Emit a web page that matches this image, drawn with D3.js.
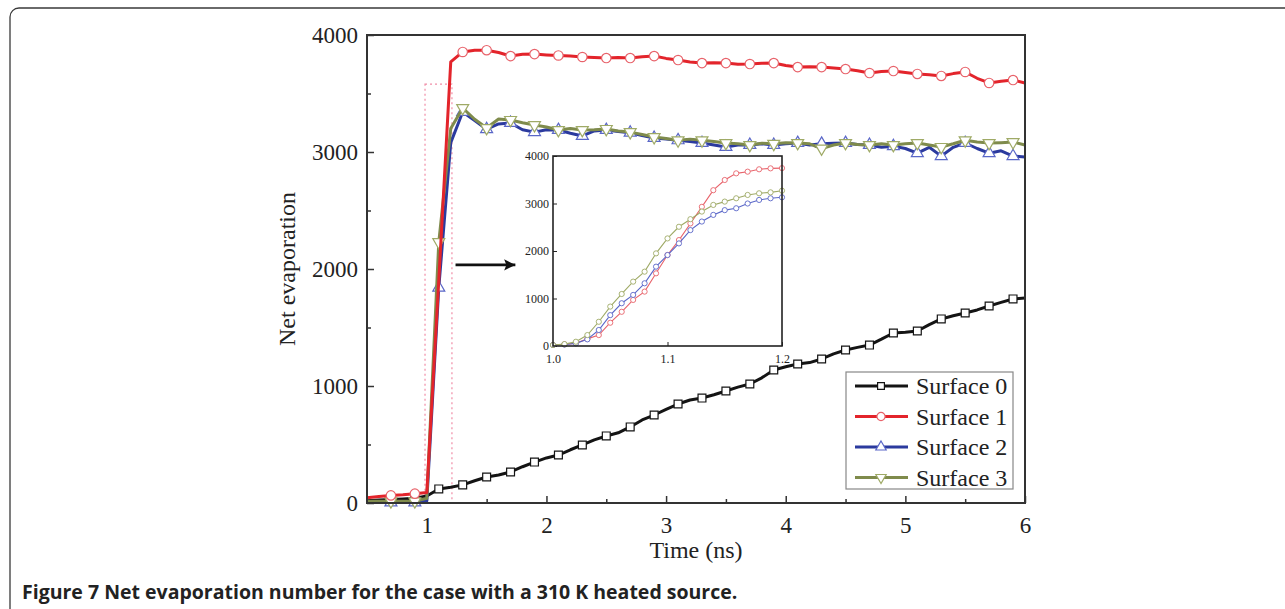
<!DOCTYPE html>
<html>
<head>
<meta charset="utf-8">
<script src="https://cdn.jsdelivr.net/npm/d3@7/dist/d3.min.js"></script>
<style>
body { margin: 0; background: #fff; }
svg text { font-family: "Liberation Serif", "Times New Roman", serif; fill: #222; }
</style>
</head>
<body>
<svg id="fig" width="1285" height="609"></svg>
<script>
// ##################################
// Data
// ##################################

// main chart, time in ns
const times = [0.5, 0.6, 0.7, 0.8, 0.9, 1.0, 1.1, 1.2, 1.3, 1.4, 1.5, 1.6, 1.7, 1.8, 1.9,
               2.0, 2.1, 2.2, 2.3, 2.4, 2.5, 2.6, 2.7, 2.8, 2.9, 3.0, 3.1, 3.2, 3.3, 3.4,
               3.5, 3.6, 3.7, 3.8, 3.9, 4.0, 4.1, 4.2, 4.3, 4.4, 4.5, 4.6, 4.7, 4.8, 4.9,
               5.0, 5.1, 5.2, 5.3, 5.4, 5.5, 5.6, 5.7, 5.8, 5.9, 6.0];

const surface0 = [20, 25, 30, 35, 40, 60, 120, 135, 155, 190, 222, 240, 265, 310, 350,
                  385, 410, 455, 496, 540, 573, 600, 650, 710, 752, 800, 846, 880, 897, 925,
                  957, 990, 1017, 1070, 1137, 1165, 1188, 1200, 1231, 1275, 1308, 1330, 1350, 1400, 1453,
                  1460, 1470, 1525, 1573, 1600, 1624, 1650, 1684, 1715, 1744, 1752];

const surface1 = [45, 55, 65, 70, 80, 90, 1900, 3770, 3855, 3870, 3870, 3850, 3820, 3835, 3837,
                  3830, 3825, 3820, 3812, 3808, 3803, 3808, 3803, 3815, 3820, 3800, 3786, 3770, 3760, 3762,
                  3760, 3750, 3752, 3758, 3760, 3740, 3726, 3728, 3726, 3718, 3709, 3695, 3675, 3688, 3692,
                  3680, 3667, 3660, 3650, 3670, 3684, 3630, 3590, 3605, 3615, 3590];

const surface2 = [5, 5, 5, 5, 5, 20, 1840, 3080, 3342, 3270, 3195, 3240, 3248, 3190, 3170,
                  3190, 3188, 3160, 3137, 3180, 3188, 3175, 3165, 3140, 3120, 3110, 3100, 3090, 3077, 3060,
                  3043, 3060, 3060, 3070, 3060, 3070, 3077, 3060, 3070, 3075, 3077, 3065, 3060, 3040, 3050,
                  3030, 2990, 3040, 2965, 3040, 3077, 3030, 2990, 3010, 2965, 2957];

const surface3 = [15, 15, 15, 15, 15, 40, 2230, 3200, 3376, 3280, 3205, 3282, 3274, 3250, 3230,
                  3213, 3188, 3200, 3188, 3190, 3197, 3180, 3170, 3150, 3128, 3115, 3100, 3110, 3100, 3090,
                  3077, 3070, 3060, 3075, 3070, 3080, 3077, 3070, 3030, 3060, 3077, 3065, 3060, 3070, 3060,
                  3070, 3077, 3060, 3043, 3070, 3100, 3085, 3077, 3080, 3085, 3060];

// inset, 1.0 - 1.2 ns
const insetTimes = [1.00, 1.01, 1.02, 1.03, 1.04, 1.05, 1.06, 1.07, 1.08, 1.09, 1.10,
                    1.11, 1.12, 1.13, 1.14, 1.15, 1.16, 1.17, 1.18, 1.19, 1.20];
const insetSurface1 = [20, 35, 60, 150, 230, 490, 720, 970, 1145, 1530, 1915,
                       2230, 2580, 2930, 3280, 3495, 3635, 3670, 3720, 3740, 3745];
const insetSurface2 = [20, 30, 55, 140, 337, 650, 900, 1075, 1320, 1670, 1915,
                       2160, 2440, 2620, 2760, 2860, 2900, 3000, 3075, 3110, 3130];
const insetSurface3 = [20, 40, 90, 230, 510, 830, 1095, 1355, 1565, 1950, 2265,
                       2510, 2670, 2830, 2970, 3040, 3110, 3180, 3215, 3235, 3270];

const seriesNames = ["Surface 0", "Surface 1", "Surface 2", "Surface 3"];
const xTicks = [1, 2, 3, 4, 5, 6];
const xMinorTicks = [1.5, 2.5, 3.5, 4.5, 5.5];
const yTicks = [0, 1000, 2000, 3000, 4000];
const yMinorTicks = [500, 1500, 2500, 3500];
const insetXTicks = [1.0, 1.1, 1.2];
const insetYTicks = [0, 1000, 2000, 3000, 4000];

const captionBold = "Figure 7";
const captionText = "Net evaporation number for the case with a 310 K heated source.";


// ##################################
// Setup
// ##################################

const colors = ["#141414", "#e3242b", "#2b3a9e", "#7f8b4c"];
const insetColors = ["#141414", "#e8636b", "#5a67c8", "#9faa66"];
const markers = [d3.symbolSquare, d3.symbolCircle, d3.symbolTriangle, d3.symbolTriangle];
const markerRot = [0, 0, 0, 180];
const markerSize = [62, 70, 62, 62];
// red series shows no symbol on its steep rise
const skipMarkerAt = [[], [1.1], [], []];

const series = [surface0, surface1, surface2, surface3].map((vals, k) => ({
    name: seriesNames[k],
    k: k,
    points: times.map((t, i) => ({ t: t, v: vals[i], i: i }))
}));

const insetSeries = [insetSurface1, insetSurface2, insetSurface3].map((vals, j) => ({
    k: j + 1,
    points: insetTimes.map((t, i) => ({ t: t, v: vals[i] }))
}));

const svg = d3.select("#fig");

// outer figure frame (rounded, open at right / bottom)
svg.append("rect")
    .attr("x", 10).attr("y", 8)
    .attr("width", 1300).attr("height", 612)
    .attr("rx", 9)
    .attr("fill", "none")
    .attr("stroke", "#3a3a3a")
    .attr("stroke-width", 1.3);


// ##################################
// Main plot
// ##################################

const xScale = d3.scaleLinear().domain([0.5, 6]).range([367, 1025]);
const yScale = d3.scaleLinear().domain([0, 4000]).range([503, 35]);

// x axis
svg.append("g")
    .attr("transform", "translate(0," + yScale(0) + ")")
    .call(d3.axisBottom(xScale).tickValues(xTicks).tickFormat(d3.format("d"))
            .tickSizeInner(-7).tickSizeOuter(0).tickPadding(14))
    .call(g => g.select(".domain").remove())
    .call(g => g.selectAll("text").attr("font-family", "Liberation Serif").attr("font-size", 23).attr("fill", "#222"))
    .call(g => g.selectAll("line").attr("stroke", "#333").attr("stroke-width", 1.5));

svg.append("g")
    .attr("transform", "translate(0," + yScale(0) + ")")
    .call(d3.axisBottom(xScale).tickValues(xMinorTicks).tickFormat("").tickSizeInner(-4).tickSizeOuter(0))
    .call(g => g.select(".domain").remove())
    .call(g => g.selectAll("line").attr("stroke", "#333").attr("stroke-width", 1.5));

// y axis
svg.append("g")
    .attr("transform", "translate(" + xScale(0.5) + ",0)")
    .call(d3.axisLeft(yScale).tickValues(yTicks).tickFormat(d3.format("d"))
            .tickSizeInner(-7).tickSizeOuter(0).tickPadding(9))
    .call(g => g.select(".domain").remove())
    .call(g => g.selectAll("text").attr("font-family", "Liberation Serif").attr("font-size", 23).attr("fill", "#222"))
    .call(g => g.selectAll("line").attr("stroke", "#333").attr("stroke-width", 1.5));

svg.append("g")
    .attr("transform", "translate(" + xScale(0.5) + ",0)")
    .call(d3.axisLeft(yScale).tickValues(yMinorTicks).tickFormat("").tickSizeInner(-4).tickSizeOuter(0))
    .call(g => g.select(".domain").remove())
    .call(g => g.selectAll("line").attr("stroke", "#333").attr("stroke-width", 1.5));

// pink dotted zoom box
svg.append("rect")
    .attr("x", xScale(0.985))
    .attr("y", yScale(3580))
    .attr("width", xScale(1.21) - xScale(0.985))
    .attr("height", yScale(0) - yScale(3580))
    .attr("fill", "none")
    .attr("stroke", "#f08ca6")
    .attr("stroke-width", 1.2)
    .attr("stroke-dasharray", "2,3");

// lines
const line = d3.line()
    .x(d => xScale(d.t))
    .y(d => yScale(d.v));

const drawOrder = [0, 2, 3, 1];

drawOrder.forEach(k => {
    const s = series[k];
    const g = svg.append("g").attr("class", "series");

    g.append("path")
        .attr("d", line(s.points))
        .attr("fill", "none")
        .attr("stroke", colors[k])
        .attr("stroke-width", 3)
        .attr("stroke-linejoin", "round");

    // markers on every second sample
    g.selectAll("path.marker")
        .data(s.points.filter(d => d.i > 0 && d.i % 2 === 0 && !skipMarkerAt[k].includes(d.t)))
        .join("path")
            .attr("class", "marker")
            .attr("d", d3.symbol().type(markers[k]).size(markerSize[k]))
            .attr("transform", d => "translate(" + xScale(d.t) + "," + yScale(d.v) + ") rotate(" + markerRot[k] + ")")
            .attr("fill", "#fff")
            .attr("stroke", insetColors[k])
            .attr("stroke-width", 1.2);
});

// plot frame
svg.append("rect")
    .attr("x", xScale(0.5))
    .attr("y", yScale(4000))
    .attr("width", xScale(6) - xScale(0.5))
    .attr("height", yScale(0) - yScale(4000))
    .attr("fill", "none")
    .attr("stroke", "#333")
    .attr("stroke-width", 2);

// arrow towards inset
svg.append("defs").append("marker")
    .attr("id", "arrowHead")
    .attr("viewBox", "0 0 10 10")
    .attr("refX", 10).attr("refY", 5)
    .attr("markerWidth", 5).attr("markerHeight", 4)
    .attr("markerUnits", "strokeWidth")
    .attr("orient", "auto")
    .append("path")
        .attr("d", "M0,0 L10,5 L0,10 L2,5 Z")
        .attr("fill", "#111");

svg.append("line")
    .attr("x1", xScale(1.24)).attr("y1", yScale(2035))
    .attr("x2", xScale(1.74)).attr("y2", yScale(2035))
    .attr("stroke", "#111")
    .attr("stroke-width", 2.8)
    .attr("marker-end", "url(#arrowHead)");

// axis labels
svg.append("text")
    .attr("transform", "translate(" + 295 + "," + yScale(2000) + ") rotate(-90)")
    .attr("text-anchor", "middle")
    .attr("font-size", 24)
    .text("Net evaporation");

svg.append("text")
    .attr("x", (xScale(0.5) + xScale(6)) / 2)
    .attr("y", 558)
    .attr("text-anchor", "middle")
    .attr("font-size", 24)
    .text("Time (ns)");


// ##################################
// Legend
// ##################################

const legend = svg.append("g").attr("transform", "translate(846,372)");

legend.append("rect")
    .attr("width", 167).attr("height", 117)
    .attr("fill", "#fff")
    .attr("stroke", "#888")
    .attr("stroke-width", 1.2);

seriesNames.forEach((name, k) => {
    const y = 14 + k * 30.5;
    legend.append("line")
        .attr("x1", 9).attr("x2", 62)
        .attr("y1", y).attr("y2", y)
        .attr("stroke", colors[k])
        .attr("stroke-width", 3);
    legend.append("path")
        .attr("d", d3.symbol().type(markers[k]).size(markerSize[k] * 0.75))
        .attr("transform", "translate(35," + y + ") rotate(" + markerRot[k] + ")")
        .attr("fill", "#fff")
        .attr("stroke", insetColors[k])
        .attr("stroke-width", 1.2);
    legend.append("text")
        .attr("x", 70).attr("y", y + 8)
        .attr("font-size", 24)
        .text(name);
});


// ##################################
// Inset
// ##################################

const ixScale = d3.scaleLinear().domain([1.0, 1.2]).range([553, 782]);
const iyScale = d3.scaleLinear().domain([0, 4000]).range([346, 156]);

const inset = svg.append("g");

inset.append("rect")
    .attr("x", ixScale(1.0)).attr("y", iyScale(4000))
    .attr("width", ixScale(1.2) - ixScale(1.0))
    .attr("height", iyScale(0) - iyScale(4000))
    .attr("fill", "#fff");

inset.append("g")
    .attr("transform", "translate(0," + iyScale(0) + ")")
    .call(d3.axisBottom(ixScale).tickValues(insetXTicks).tickFormat(d3.format(".1f"))
            .tickSizeInner(-4).tickSizeOuter(0).tickPadding(8))
    .call(g => g.select(".domain").remove())
    .call(g => g.selectAll("text").attr("font-family", "Liberation Serif").attr("font-size", 12).attr("fill", "#222"))
    .call(g => g.selectAll("line").attr("stroke", "#222"));

inset.append("g")
    .attr("transform", "translate(" + ixScale(1.0) + ",0)")
    .call(d3.axisLeft(iyScale).tickValues(insetYTicks).tickFormat(d3.format("d"))
            .tickSizeInner(-4).tickSizeOuter(0).tickPadding(4))
    .call(g => g.select(".domain").remove())
    .call(g => g.selectAll("text").attr("font-family", "Liberation Serif").attr("font-size", 12).attr("fill", "#222"))
    .call(g => g.selectAll("line").attr("stroke", "#222"));

const insetLine = d3.line()
    .x(d => ixScale(d.t))
    .y(d => iyScale(d.v));

insetSeries.forEach(s => {
    inset.append("path")
        .attr("d", insetLine(s.points))
        .attr("fill", "none")
        .attr("stroke", insetColors[s.k])
        .attr("stroke-width", 1.1);

    inset.selectAll(null)
        .data(s.points)
        .join("circle")
            .attr("cx", d => ixScale(d.t))
            .attr("cy", d => iyScale(d.v))
            .attr("r", 2.6)
            .attr("fill", "#fff")
            .attr("stroke", insetColors[s.k])
            .attr("stroke-width", 0.9);
});

inset.append("rect")
    .attr("x", ixScale(1.0)).attr("y", iyScale(4000))
    .attr("width", ixScale(1.2) - ixScale(1.0))
    .attr("height", iyScale(0) - iyScale(4000))
    .attr("fill", "none")
    .attr("stroke", "#222")
    .attr("stroke-width", 1.6);


// ##################################
// Caption
// ##################################

const caption = svg.append("text")
    .attr("x", 22)
    .attr("y", 599)
    .attr("font-weight", 700)
    .attr("font-size", 19.5)
    .style("font-family", "'Open Sans', sans-serif")
    .attr("fill", "#1a1a1a");

caption.append("tspan").text(captionBold + " ");
caption.append("tspan").text(captionText);
</script>
</body>
</html>
